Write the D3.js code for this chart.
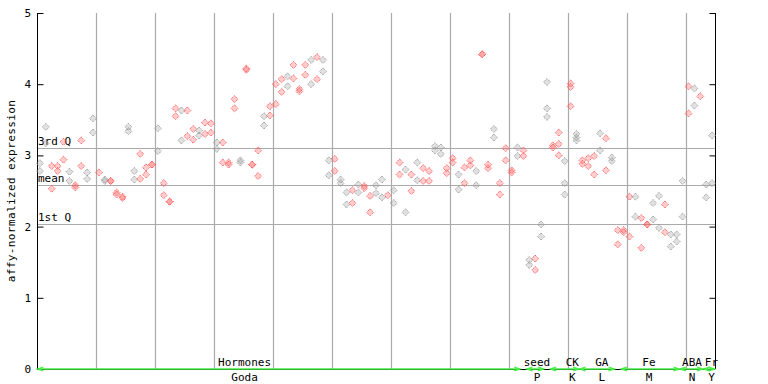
<!DOCTYPE html>
<html>
<head>
<meta charset="utf-8">
<script src="https://cdn.jsdelivr.net/npm/d3@7"></script>
<style>
  body { margin: 0; background: #fff; }
  text { font-family: "DejaVu Sans Mono", monospace; font-size: 11px; fill: #000; }
</style>
</head>
<body>
<svg id="svg"></svg>
<script>
var w = 768;
var h = 384;

// expression values per sample (replicates)
var values = [
  [2.89, 2.78], [3.40, 3.17], [2.85, 2.53], [2.85, 2.78], [3.19, 2.94],
  [2.77, 2.64], [2.58, 2.55], [3.21, 2.85], [2.76, 2.67], [3.52, 3.32],
  [2.76], [2.66, 2.64], [2.64, 2.64], [2.48, 2.45], [2.42, 2.40],
  [3.40, 3.34], [2.78, 2.66], [3.02, 2.67], [2.83, 2.73], [2.87, 2.87],
  [3.38, 3.06], [2.61, 2.44], [2.35, 2.35], [3.66, 3.55], [3.63, 3.21],
  [3.63, 3.27], [3.37, 3.22], [3.35, 3.28], [3.46, 3.30], [3.45, 3.32],
  [3.18, 3.09], [3.18, 2.90], [2.90, 2.87], [3.79, 3.66], [2.93, 2.90],
  [4.22, 4.20], [2.87, 2.87], [3.07, 2.71], [3.55, 3.42], [3.69, 3.56],
  [4.00, 3.72], [4.07, 3.89], [4.11, 3.97], [4.27, 4.08], [3.93, 3.90],
  [4.27, 4.13], [4.34, 4.00], [4.38, 4.07], [4.34, 4.18], [2.93, 2.72],
  [2.95, 2.78], [2.66, 2.61], [2.48, 2.31], [2.51, 2.33], [2.59, 2.48],
  [2.57, 2.54], [2.43, 2.20], [2.58, 2.47], [2.66, 2.41], [2.44],
  [2.51, 2.33], [2.90, 2.73], [2.80, 2.20], [2.73, 2.50], [2.90, 2.65],
  [2.82, 2.64], [2.78, 2.64], [3.13, 3.07], [3.11, 3.02], [2.82, 2.75],
  [2.96, 2.90], [2.73, 2.52], [2.83, 2.61], [2.93, 2.86], [2.78, 2.58],
  [4.42, 4.42], [2.87, 2.82], [3.37, 3.25], [2.61, 2.45], [3.10, 2.93],
  [2.79, 2.76], [3.11, 2.99], [3.07, 2.99], [1.53, 1.46], [1.55, 1.39],
  [2.03, 1.86], [4.03, 3.66, 3.54], [3.14, 3.11], [3.32, 3.16, 3.00], [2.92, 2.61, 2.45],
  [4.01, 3.96, 3.69], [3.30, 3.25, 3.21], [2.93, 2.88], [2.96, 2.85], [2.99, 2.73],
  [3.31, 3.07], [3.24, 2.79], [2.97, 2.92], [1.95, 1.75], [1.95, 1.92],
  [2.42, 1.86], [2.42, 2.14], [2.12, 1.70], [2.03, 2.03], [2.33, 2.10],
  [2.43, 1.98], [2.31, 1.92], [1.89, 1.72], [1.89, 1.79], [2.64, 2.14],
  [3.97, 3.59], [3.94, 3.70], [3.83], [2.59, 2.41], [3.28, 2.61]
];

// r = treatment (red), g = control (gray)
var tones = "ggrrrgrrgg" + "rgrrrggrrr" + "grrrgrrgrr" + "grrrgrrrgr" +
            "rrgrrrgrgg" + "rggrgrrggr" + "grgrgrrggr" + "rgrrgrrgrr" +
            "rgrgrggrrg" + "rgrrrgrgrr" + "rgrrggrggg" + "rgrgg";

var refValues = [3.10, 2.58, 2.04];
var refLabels = ["3rd Q", "mean", "1st Q"];

var groupNames = ["Hormones", "seed", "CK", "GA", "Fe", "ABA", "Fr"];
var groupCodes = ["Goda", "P", "K", "L", "M", "N", "Y"];
var groupStart = [0, 83, 87, 92, 99, 109, 113];
var groupEnd = [81, 85, 91, 97, 108, 112, 114];
var groupLabelAt = [34.7, 84.3, 90.3, 95.3, 103.3, 110.6, 113.9];

var yTicks = [0, 1, 2, 3, 4, 5];

var red = "#ff5a5a";
var gray = "#9a9a9a";
var green = "#44ee44";

var svg = d3.select("#svg")
    .attr("width", w)
    .attr("height", h);

svg.append("rect")
    .attr("width", w)
    .attr("height", h)
    .attr("fill", "#fff");

var x = d3.scaleLinear().domain([-0.5, values.length - 0.5]).range([37, 715]);
var y = d3.scaleLinear().domain([0, 5]).range([369, 13]);

// vertical grid every 10 samples
var vgrid = d3.range(9.5, values.length - 1, 10);
svg.selectAll("line.vgrid")
    .data(vgrid)
  .enter().append("line")
    .attr("class", "vgrid")
    .attr("x1", function(d) { return Math.round(x(d)) + 0.5; })
    .attr("x2", function(d) { return Math.round(x(d)) + 0.5; })
    .attr("y1", y(5))
    .attr("y2", y(0))
    .attr("stroke", "#aaa")
    .attr("stroke-width", 1.2);

// quartile / mean lines
svg.selectAll("line.ref")
    .data(refValues)
  .enter().append("line")
    .attr("class", "ref")
    .attr("x1", x.range()[0])
    .attr("x2", x.range()[1])
    .attr("y1", function(d) { return Math.round(y(d)) + 0.5; })
    .attr("y2", function(d) { return Math.round(y(d)) + 0.5; })
    .attr("stroke", "#aaa")
    .attr("stroke-width", 1.2);

svg.selectAll("text.ref")
    .data(refValues)
  .enter().append("text")
    .attr("class", "ref")
    .attr("x", 38)
    .attr("y", function(d) { return y(d) - 3; })
    .text(function(d, i) { return refLabels[i]; });

// axes
var left = svg.append("g").attr("transform", "translate(37.5,0)")
    .call(d3.axisRight(y).tickValues(yTicks).tickSize(6).tickFormat(""));
var right = svg.append("g").attr("transform", "translate(715.5,0)")
    .call(d3.axisLeft(y).tickValues(yTicks.slice(1)).tickSize(6).tickFormat(""));
[left, right].forEach(function(g) {
    g.select(".domain").attr("d", "M0," + y(5) + "V" + y(0)).attr("stroke", "#000");
    g.selectAll(".tick line").attr("stroke", "#000");
});

svg.selectAll("text.ytick")
    .data(yTicks)
  .enter().append("text")
    .attr("class", "ytick")
    .attr("x", 31)
    .attr("y", function(d) { return y(d) + 4; })
    .attr("text-anchor", "end")
    .text(function(d) { return d; });

svg.append("text")
    .attr("transform", "translate(15," + y(2.5) + ")rotate(-90)")
    .attr("text-anchor", "middle")
    .attr("letter-spacing", "0.4")
    .text("affy-normalized expression");

// bottom baseline
svg.append("line")
    .attr("x1", 37).attr("x2", 715)
    .attr("y1", 369.5).attr("y2", 369.5)
    .attr("stroke", "#000");

// group bars with arrows
var groups = groupNames.map(function(n, i) {
    return { name: n, code: groupCodes[i], s: groupStart[i], e: groupEnd[i], at: groupLabelAt[i] };
});

var gg = svg.selectAll("g.grp")
    .data(groups)
  .enter().append("g")
    .attr("class", "grp");

gg.append("path")
    .attr("fill", "none")
    .attr("stroke", green)
    .attr("stroke-width", 1.3)
    .attr("d", function(d) {
        var a = Math.max(37, x(d.s - 0.45)), b = Math.min(715, x(d.e + 0.45)), yy = 369;
        return "M" + a + "," + yy + "H" + b +
               "M" + (a + 6) + "," + (yy - 2) + "L" + a + "," + yy + "L" + (a + 6) + "," + (yy + 2) +
               "M" + (b - 6) + "," + (yy - 2) + "L" + b + "," + yy + "L" + (b - 6) + "," + (yy + 2);
    });

gg.append("text")
    .attr("x", function(d) { return x(d.at); })
    .attr("y", 366)
    .attr("text-anchor", "middle")
    .text(function(d) { return d.name; });

gg.append("text")
    .attr("x", function(d) { return x(d.at); })
    .attr("y", 381)
    .attr("text-anchor", "middle")
    .text(function(d) { return d.code; });

// points: dotted diamonds
var pts = [];
values.forEach(function(vs, i) {
    vs.forEach(function(v) { pts.push({ i: i, v: v, tone: tones[i] }); });
});

svg.selectAll("path.pt")
    .data(pts)
  .enter().append("path")
    .attr("class", "pt")
    .attr("d", "M0,-3.5L3.5,0L0,3.5L-3.5,0Z")
    .attr("transform", function(d) { return "translate(" + [x(d.i), y(d.v)] + ")"; })
    .attr("fill", function(d) { return d.tone == "r" ? red : gray; })
    .attr("fill-opacity", 0.3)
    .attr("stroke", function(d) { return d.tone == "r" ? red : gray; })
    .attr("stroke-width", 1)
    .attr("stroke-dasharray", "1.2,0.9");
</script>
</body>
</html>
